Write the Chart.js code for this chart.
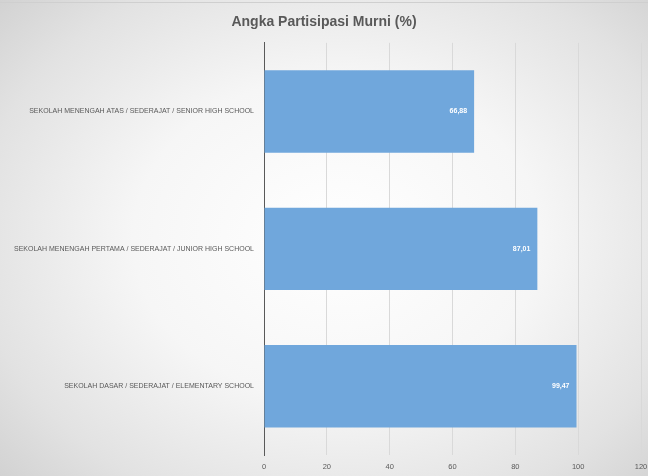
<!DOCTYPE html>
<html>
<head>
<meta charset="utf-8">
<script src="https://cdn.jsdelivr.net/npm/chart.js@4.4.1/dist/chart.umd.min.js"></script>
<style>
  html, body { margin: 0; padding: 0; }
  body {
    width: 648px; height: 476px; overflow: hidden;
    background: radial-gradient(ellipse 70% 75% at 52% 50%, #ffffff 0%, #f6f6f6 45%, #e2e2e2 80%, #d2d2d2 100%);
  }
  #wrap { position: absolute; left: 0; top: 0; width: 648px; height: 476px; }
  #topline { position: absolute; left: 0; top: 2px; width: 648px; height: 1px; background: #cfcfcf; }
</style>
</head>
<body>
<div id="topline"></div>
<div id="wrap"><canvas id="c" width="648" height="476"></canvas></div>
<script>
const categories = [
  "SEKOLAH MENENGAH ATAS / SEDERAJAT / SENIOR HIGH SCHOOL",
  "SEKOLAH MENENGAH PERTAMA / SEDERAJAT / JUNIOR HIGH SCHOOL",
  "SEKOLAH DASAR / SEDERAJAT / ELEMENTARY SCHOOL"
];
const values = [66.88, 87.01, 99.47];
const valueLabels = ["66,88", "87,01", "99,47"];
const xTicks = [0, 20, 40, 60, 80, 100, 120];
const chartTitle = "Angka Partisipasi Murni (%)";

const FONT = "'Liberation Sans', 'DejaVu Sans', sans-serif";

const valueLabelPlugin = {
  id: 'valueLabels',
  afterDatasetsDraw(chart) {
    const ctx = chart.ctx;
    const meta = chart.getDatasetMeta(0);
    ctx.save();
    ctx.fillStyle = '#ffffff';
    ctx.font = 'bold 7px ' + FONT;
    ctx.textAlign = 'right';
    ctx.textBaseline = 'middle';
    meta.data.forEach((bar, i) => {
      ctx.fillText(valueLabels[i], bar.x - 7, bar.y);
    });
    ctx.restore();
  }
};

new Chart(document.getElementById('c'), {
  type: 'bar',
  data: {
    labels: categories,
    datasets: [{
      data: values,
      backgroundColor: '#70a7dc',
      borderWidth: 0,
      categoryPercentage: 0.6,
      barPercentage: 1.0
    }]
  },
  options: {
    indexAxis: 'y',
    responsive: false,
    animation: false,
    layout: { padding: { left: 0, right: 0, top: 0, bottom: 0 } },
    plugins: {
      legend: { display: false },
      tooltip: { enabled: false },
      title: {
        display: true,
        text: chartTitle,
        color: '#595959',
        font: { family: FONT, size: 14, weight: 'bold' },
        padding: { top: 14, bottom: 12 }
      }
    },
    scales: {
      x: {
        min: 0,
        max: 120,
        afterBuildTicks(scale) { scale.ticks = xTicks.map(v => ({ value: v })); },
        afterFit(scale) { scale.height = 21; scale.paddingRight = 7; },
        grid: {
          color: (c) => c.index === 0 ? 'rgba(0,0,0,0)' : '#d9d9d9',
          lineWidth: 1,
          drawTicks: false
        },
        border: { display: false },
        ticks: {
          color: '#595959',
          font: { family: FONT, size: 7.5 },
          padding: 7
        }
      },
      y: {
        afterFit(scale) { scale.width = 264; },
        grid: { display: false, drawTicks: false },
        border: { display: true, color: '#595959', width: 1 },
        ticks: {
          color: '#595959',
          font: { family: FONT, size: 7 },
          padding: 10
        }
      }
    }
  },
  plugins: [valueLabelPlugin]
});
</script>
</body>
</html>
